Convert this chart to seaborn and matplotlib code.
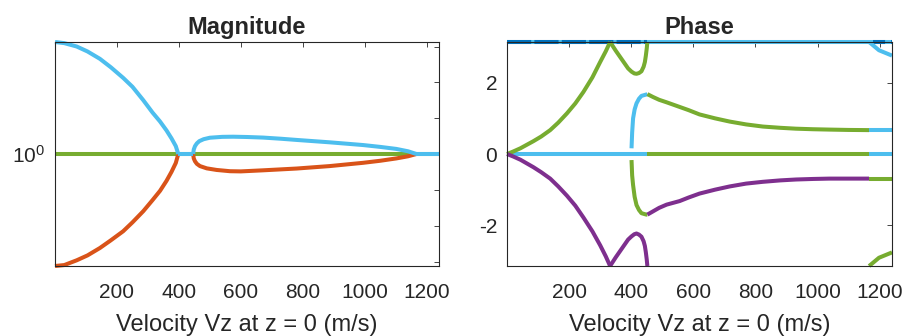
import seaborn as sns
import matplotlib.pyplot as plt
from matplotlib.ticker import FixedLocator, NullFormatter

# MATLAB default colour order
ORANGE = "#D95319"
PURPLE = "#7E2F8E"
GREEN = "#77AC30"
CYAN = "#4DBEEE"
BLUE = "#0072BD"
LW = 2.9

# ---- Magnitude panel data (log axis) ----
vz_mag_flat = [0, 1240]
mag_flat = [1.0, 1.0]

vz_lo = [0, 30, 70, 105, 145, 180, 220, 250, 285, 315, 339, 360, 376, 390, 398]
mag_cyan_lo = [2.000, 1.986, 1.945, 1.886, 1.802, 1.711, 1.602, 1.516, 1.395,
               1.292, 1.223, 1.157, 1.102, 1.050, 1.000]
mag_orange_lo = [0.500, 0.503, 0.518, 0.534, 0.559, 0.586, 0.620, 0.655, 0.702,
                 0.752, 0.796, 0.847, 0.895, 0.946, 1.000]

vz_cyan_hi = [446, 448, 452, 458, 466, 480, 500, 540, 575, 620, 672, 730, 780,
              887, 995, 1050, 1102, 1140, 1167]
mag_cyan_hi = [1.0, 1.028, 1.050, 1.068, 1.083, 1.096, 1.106, 1.112, 1.113,
               1.111, 1.107, 1.099, 1.091, 1.075, 1.057, 1.045, 1.032, 1.017, 1.0]
vz_orange_hi = [446, 448, 452, 458, 468, 490, 522, 565, 600, 672, 780, 887,
                995, 1050, 1102, 1140, 1167]
mag_orange_hi = [1.0, 0.973, 0.956, 0.941, 0.928, 0.915, 0.906, 0.899, 0.898,
                 0.904, 0.914, 0.928, 0.947, 0.959, 0.973, 0.986, 1.0]

vz_cyan_gap1 = [398, 446]
vz_cyan_gap2 = [1167, 1240]

# ---- Phase panel data ----
vz_top = [0, 1240]
ph_top = [3.1416, 3.1416]
vz_top_dark1 = [0, 452]
vz_top_dark2 = [1180, 1240]

vz_zero_cyan1 = [0, 452]
vz_zero_green = [452, 1166]
vz_zero_cyan2 = [1166, 1240]
ph_zero = [0.0, 0.0]

vz_rise = [0, 20, 43, 85, 110, 139, 165, 193, 220, 246, 275, 300, 318, 332]
ph_green_rise = [0.0, 0.07, 0.16, 0.36, 0.49, 0.67, 0.88, 1.14, 1.42, 1.74,
                 2.15, 2.58, 2.88, 3.1416]
ph_purple_fall = [0.0, -0.07, -0.16, -0.37, -0.51, -0.69, -0.91, -1.17, -1.45,
                  -1.78, -2.17, -2.56, -2.87, -3.1416]

vz_notch = [332, 350, 374, 390, 401, 410, 417, 425, 433, 440, 444, 447, 450, 452]
ph_green_notch = [3.1416, 2.90, 2.60, 2.40, 2.31, 2.26, 2.25, 2.27, 2.32, 2.45,
                  2.58, 2.75, 2.96, 3.1416]
ph_purple_notch = [-3.1416, -2.90, -2.60, -2.40, -2.31, -2.25, -2.23, -2.26,
                   -2.32, -2.45, -2.58, -2.75, -2.96, -3.1416]

vz_jump = [401, 403, 406, 411, 417, 425, 433, 449, 452]
ph_cyan_jump = [0.16, 0.60, 1.00, 1.25, 1.42, 1.55, 1.63, 1.67, 1.68]
ph_green_jump = [-0.17, -0.60, -0.87, -1.20, -1.43, -1.57, -1.66, -1.70, -1.70]

vz_decay = [452, 470, 490, 514, 556, 585, 620, 670, 717, 770, 824, 880, 931,
            985, 1038, 1100, 1166]
ph_green_decay = [1.68, 1.60, 1.52, 1.45, 1.32, 1.23, 1.11, 1.00, 0.91, 0.83,
                  0.77, 0.735, 0.71, 0.695, 0.685, 0.675, 0.67]
ph_purple_decay = [-1.70, -1.61, -1.51, -1.42, -1.32, -1.22, -1.11, -1.00,
                   -0.91, -0.83, -0.78, -0.74, -0.715, -0.70, -0.69, -0.69, -0.69]

vz_tail = [1166, 1240]
ph_cyan_tail = [0.67, 0.67]
ph_green_tail = [-0.69, -0.69]

vz_wrap = [1166, 1172, 1198, 1240]
ph_cyan_wrap = [3.1416, 3.10, 2.91, 2.76]
ph_green_wrap = [-3.1416, -3.10, -2.91, -2.76]

xticks = [200, 400, 600, 800, 1000, 1200]

sns.set_style("white")
plt.rcParams["font.family"] = ["Liberation Sans", "DejaVu Sans"]
plt.rcParams["mathtext.fontset"] = "custom"
plt.rcParams["mathtext.rm"] = "Liberation Sans"
plt.rcParams["axes.unicode_minus"] = False
plt.rcParams["axes.edgecolor"] = "#262626"
plt.rcParams["axes.linewidth"] = 0.8


def draw(ax, x, y, color, **kw):
    sns.lineplot(x=x, y=y, ax=ax, color=color, lw=LW, sort=False,
                 estimator=None, clip_on=False, solid_capstyle="butt",
                 solid_joinstyle="round", **kw)


def style_axes(ax, title):
    ax.set_xlim(0, 1240)
    ax.set_xticks(xticks)
    ax.tick_params(which="both", direction="in", top=True, right=True,
                   length=3.5, width=0.6, color="#262626",
                   labelsize=15, labelcolor="#262626", pad=7)
    ax.tick_params(axis="x", pad=12)
    ax.set_title(title, fontsize=17, fontweight="bold", pad=6)
    ax.set_xlabel("Velocity Vz at z = 0 (m/s)", fontsize=17, color="#262626",
                  labelpad=9)
    ax.set_ylabel("")


fig = plt.figure(figsize=(9.08, 3.36), dpi=100)
ax_mag = fig.add_axes([0.0606, 0.2083, 0.4229, 0.6667])
ax_ph = fig.add_axes([0.5584, 0.2083, 0.4240, 0.6667])

# Magnitude
ax_mag.set_yscale("log")
draw(ax_mag, vz_mag_flat, mag_flat, GREEN)
draw(ax_mag, vz_lo, mag_orange_lo, ORANGE)
draw(ax_mag, vz_orange_hi, mag_orange_hi, ORANGE)
draw(ax_mag, vz_lo, mag_cyan_lo, CYAN)
draw(ax_mag, vz_cyan_hi, mag_cyan_hi, CYAN)
draw(ax_mag, vz_cyan_gap1, mag_flat, CYAN)
draw(ax_mag, vz_cyan_gap2, mag_flat, CYAN)
ax_mag.set_ylim(0.5, 2.0)
ax_mag.yaxis.set_major_locator(FixedLocator([1.0]))
ax_mag.yaxis.set_minor_locator(FixedLocator([0.514, 0.642, 0.801, 1.248, 1.558, 1.945]))
ax_mag.yaxis.set_minor_formatter(NullFormatter())
style_axes(ax_mag, "Magnitude")

# Phase
draw(ax_ph, vz_top, ph_top, CYAN)
draw(ax_ph, vz_top_dark1, ph_top, BLUE, linestyle=(0, (6, 0.8)))
draw(ax_ph, vz_top_dark2, ph_top, BLUE, linestyle=(0, (3, 1.5)))
draw(ax_ph, vz_zero_cyan1, ph_zero, CYAN)
draw(ax_ph, vz_zero_green, ph_zero, GREEN)
draw(ax_ph, vz_zero_cyan2, ph_zero, CYAN)
draw(ax_ph, vz_rise, ph_green_rise, GREEN)
draw(ax_ph, vz_rise, ph_purple_fall, PURPLE)
draw(ax_ph, vz_notch, ph_green_notch, GREEN)
draw(ax_ph, vz_notch, ph_purple_notch, PURPLE)
draw(ax_ph, vz_jump, ph_cyan_jump, CYAN)
draw(ax_ph, vz_jump, ph_green_jump, GREEN)
draw(ax_ph, vz_decay, ph_green_decay, GREEN)
draw(ax_ph, vz_decay, ph_purple_decay, PURPLE)
draw(ax_ph, vz_tail, ph_cyan_tail, CYAN)
draw(ax_ph, vz_tail, ph_green_tail, GREEN)
draw(ax_ph, vz_wrap, ph_cyan_wrap, CYAN)
draw(ax_ph, vz_wrap, ph_green_wrap, GREEN)
ax_ph.set_ylim(-3.1416, 3.1416)
ax_ph.set_yticks([-2, 0, 2])
style_axes(ax_ph, "Phase")

fig.savefig("out.png", dpi=100)
